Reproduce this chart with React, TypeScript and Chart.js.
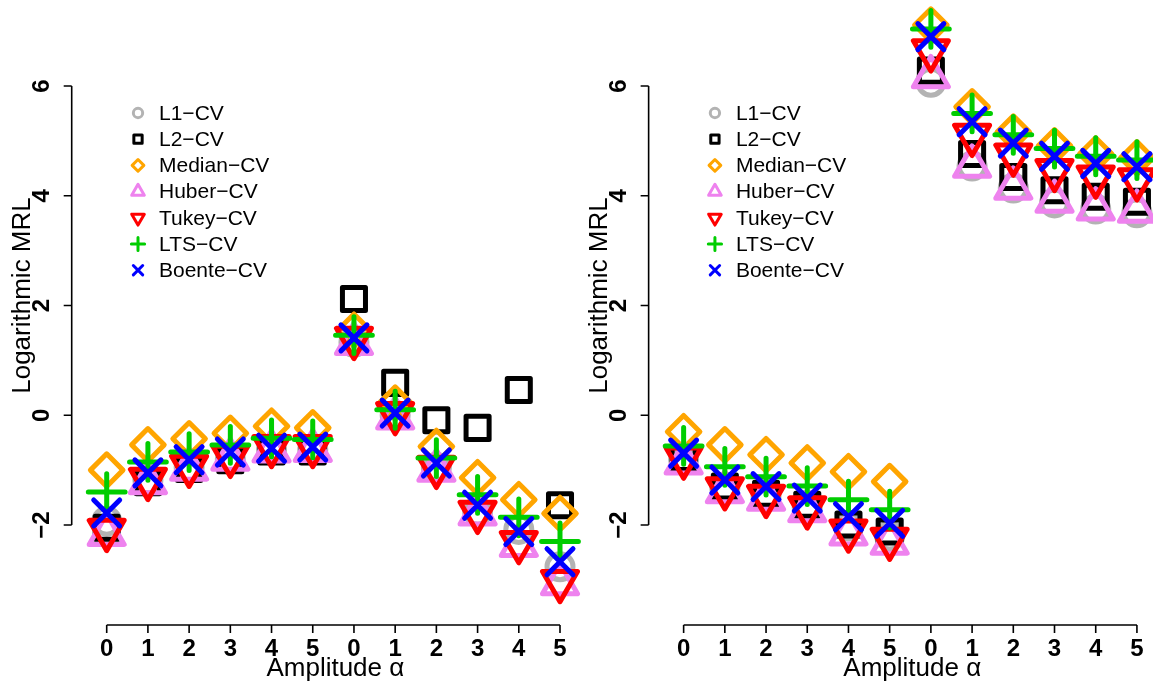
import React, { useEffect, useRef } from 'react';
import { Chart, registerables } from 'chart.js';
import { drawPoint } from 'chart.js/helpers';

Chart.register(...registerables);

// ---- data ----
const alphaLabels = ['0', '1', '2', '3', '4', '5'];
const yTicks = [-2, 0, 2, 4, 6];
const seriesNames = ['L1−CV', 'L2−CV', 'Median−CV', 'Huber−CV', 'Tukey−CV', 'LTS−CV', 'Boente−CV'];
const seriesColors = ['#B3B3B3', '#000000', '#FFA500', '#EE82EE', '#FF0000', '#00CD00', '#0000FF'];

// left panel (12 positions: alpha 0..5, then alpha 0..5)
const leftL1 = [-1.93, -1.18, -0.95, -0.80, -0.63, -0.63, 1.33, 0.0, -0.95, -1.75, -2.08, -2.76];
const leftL2 = [-2.05, -1.22, -0.98, -0.82, -0.66, -0.66, 2.12, 0.59, -0.09, -0.23, 0.46, -1.64];
const leftMedian = [-1.0, -0.54, -0.43, -0.33, -0.2, -0.23, 1.55, 0.22, -0.57, -1.14, -1.54, -1.79];
const leftHuber = [-2.17, -1.23, -0.98, -0.8, -0.65, -0.64, 1.31, -0.05, -1.0, -1.8, -2.37, -3.07];
const leftTukey = [-2.1, -1.17, -0.93, -0.75, -0.57, -0.57, 1.4, 0.03, -0.95, -1.77, -2.32, -3.03];
const leftLTS = [-1.4, -0.85, -0.67, -0.54, -0.42, -0.44, 1.46, 0.1, -0.78, -1.45, -1.86, -2.3];
const leftBoente = [-1.78, -1.05, -0.81, -0.67, -0.6, -0.58, 1.41, 0.04, -0.87, -1.64, -2.12, -2.67];

// right panel
const rightL1 = [-0.8, -1.33, -1.47, -1.68, -2.02, -2.2, 6.07, 4.54, 4.14, 3.87, 3.76, 3.69];
const rightL2 = [-0.78, -1.3, -1.43, -1.63, -1.99, -2.12, 6.28, 4.76, 4.34, 4.1, 3.98, 3.89];
const rightMedian = [-0.3, -0.54, -0.72, -0.87, -1.03, -1.21, 7.11, 5.62, 5.16, 4.91, 4.76, 4.69];
const rightHuber = [-0.87, -1.39, -1.53, -1.74, -2.16, -2.33, 6.17, 4.54, 4.14, 3.9, 3.76, 3.72];
const rightTukey = [-0.78, -1.34, -1.48, -1.69, -2.11, -2.26, 6.64, 5.1, 4.74, 4.46, 4.34, 4.29];
const rightLTS = [-0.56, -0.94, -1.12, -1.29, -1.54, -1.72, 7.04, 5.5, 5.11, 4.86, 4.72, 4.65];
const rightBoente = [-0.69, -1.18, -1.3, -1.51, -1.85, -1.97, 6.9, 5.35, 4.96, 4.72, 4.59, 4.53];

const leftSeries = [leftL1, leftL2, leftMedian, leftHuber, leftTukey, leftLTS, leftBoente];
const rightSeries = [rightL1, rightL2, rightMedian, rightHuber, rightTukey, rightLTS, rightBoente];

// ---- styling ----
const PANEL_OFFSETS = [0, 14];
const FONT = '"Liberation Sans", Arial, Helvetica, sans-serif';
const MARK = 13;
const markerStyles = [
  { pointStyle: 'circle', radius: MARK, rotation: 0 },
  { pointStyle: 'rect', radius: MARK * 1.2533, rotation: 0 },
  { pointStyle: 'rectRot', radius: MARK * 1.2533, rotation: 0 },
  { pointStyle: 'triangle', radius: MARK * 1.5551, rotation: 0 },
  { pointStyle: 'triangle', radius: MARK * 1.5551, rotation: 180 },
  { pointStyle: 'cross', radius: MARK * 1.4142, rotation: 0 },
  { pointStyle: 'crossRot', radius: MARK * 1.4142, rotation: 0 },
];
const LEGEND_SCALE = 0.36;

const rPlotPlugin = {
  id: 'rPlot',
  beforeDatasetsDraw(chart: any) {
    chart.ctx.lineCap = 'round';
    chart.ctx.lineJoin = 'round';
  },
  afterDraw(chart: any) {
    const ctx = chart.ctx;
    const xs = chart.scales.x;
    const ys = chart.scales.y;
    const area = chart.chartArea;
    ctx.save();
    ctx.strokeStyle = '#000';
    ctx.fillStyle = '#000';
    ctx.lineWidth = 1.6;
    ctx.lineCap = 'butt';
    const xAxisY = area.bottom + 17.7;
    PANEL_OFFSETS.forEach((off) => {
      const first = xs.getPixelForValue(off + 1);
      const last = xs.getPixelForValue(off + 12);
      const ax = first - 35;
      // y axis
      const yTop = ys.getPixelForValue(yTicks[yTicks.length - 1]);
      const yBot = ys.getPixelForValue(yTicks[0]);
      ctx.beginPath();
      ctx.moveTo(ax, yTop);
      ctx.lineTo(ax, yBot);
      yTicks.forEach((t) => {
        const py = ys.getPixelForValue(t);
        ctx.moveTo(ax - 8, py);
        ctx.lineTo(ax, py);
      });
      // x axis
      ctx.moveTo(first, xAxisY);
      ctx.lineTo(last, xAxisY);
      for (let i = 0; i < 12; i++) {
        const px = xs.getPixelForValue(off + 1 + i);
        ctx.moveTo(px, xAxisY);
        ctx.lineTo(px, xAxisY + 8);
      }
      ctx.stroke();

      ctx.font = 'bold 24px ' + FONT;
      ctx.textAlign = 'center';
      ctx.textBaseline = 'middle';
      yTicks.forEach((t) => {
        const py = ys.getPixelForValue(t);
        ctx.save();
        ctx.translate(ax - 29, py);
        ctx.rotate(-Math.PI / 2);
        ctx.fillText(t < 0 ? '−' + Math.abs(t) : String(t), 0, 0);
        ctx.restore();
      });
      const tickLabels = [...alphaLabels, ...alphaLabels];
      tickLabels.forEach((lab, i) => {
        const px = xs.getPixelForValue(off + 1 + i);
        ctx.fillText(lab, px, xAxisY + 24);
      });

      ctx.font = '26px ' + FONT;
      ctx.fillText('Amplitude α', (first + last) / 2 + 2, xAxisY + 44);
      ctx.save();
      ctx.translate(ax - 49, (yTop + yBot) / 2 - 10);
      ctx.rotate(-Math.PI / 2);
      ctx.fillText('Logarithmic MRL', 0, 0);
      ctx.restore();

      // legend
      const lx = first + 31.3;
      ctx.font = '21px ' + FONT;
      ctx.textAlign = 'left';
      seriesNames.forEach((name, k) => {
        const ly = 113 + k * 26.2;
        const st = markerStyles[k];
        ctx.save();
        ctx.lineCap = 'round';
        ctx.lineJoin = 'round';
        ctx.strokeStyle = seriesColors[k];
        ctx.fillStyle = 'rgba(0,0,0,0)';
        ctx.lineWidth = 3;
        drawPoint(ctx, {
          pointStyle: st.pointStyle as any,
          radius: st.radius * LEGEND_SCALE,
          rotation: st.rotation,
          borderWidth: 3,
        } as any, lx, ly);
        ctx.restore();
        ctx.fillStyle = '#000';
        ctx.fillText(name, lx + 21, ly + 1);
      });
    });
    ctx.restore();
  },
};

export default function App() {
  const ref = useRef<HTMLCanvasElement | null>(null);
  useEffect(() => {
    if (!ref.current) return;
    const datasets = seriesNames.map((name, k) => {
      const pts: { x: number; y: number }[] = [];
      [leftSeries[k], rightSeries[k]].forEach((arr, p) => {
        arr.forEach((v, i) => pts.push({ x: PANEL_OFFSETS[p] + i + 1, y: v }));
      });
      const st = markerStyles[k];
      return {
        label: name,
        data: pts,
        order: seriesNames.length - k,
        showLine: false,
        clip: false as any,
        pointStyle: st.pointStyle,
        pointRotation: st.rotation,
        pointRadius: st.radius,
        pointHoverRadius: st.radius,
        pointBorderWidth: 5,
        pointHoverBorderWidth: 5,
        borderColor: seriesColors[k],
        pointBorderColor: seriesColors[k],
        backgroundColor: 'rgba(0,0,0,0)',
        pointBackgroundColor: 'rgba(0,0,0,0)',
      };
    });
    const chart = new Chart(ref.current, {
      type: 'scatter',
      data: { datasets: datasets as any },
      options: {
        animation: false,
        responsive: false,
        events: [],
        layout: { autoPadding: false, padding: { left: 86.1, right: 0, top: 3.7, bottom: 76.7 } },
        plugins: { legend: { display: false }, tooltip: { enabled: false }, title: { display: false } },
        scales: {
          x: { type: 'linear', min: 0.5, max: 26.39, display: false },
          y: { type: 'linear', min: -3.5, max: 7.5, display: false },
        },
      },
      plugins: [rPlotPlugin],
    });
    return () => chart.destroy();
  }, []);
  return (
    <div style={{ position: 'fixed', left: 0, top: 0, width: 1153, height: 684, background: '#fff' }}>
      <canvas ref={ref} width={1153} height={684} style={{ display: 'block' }} />
    </div>
  );
}
